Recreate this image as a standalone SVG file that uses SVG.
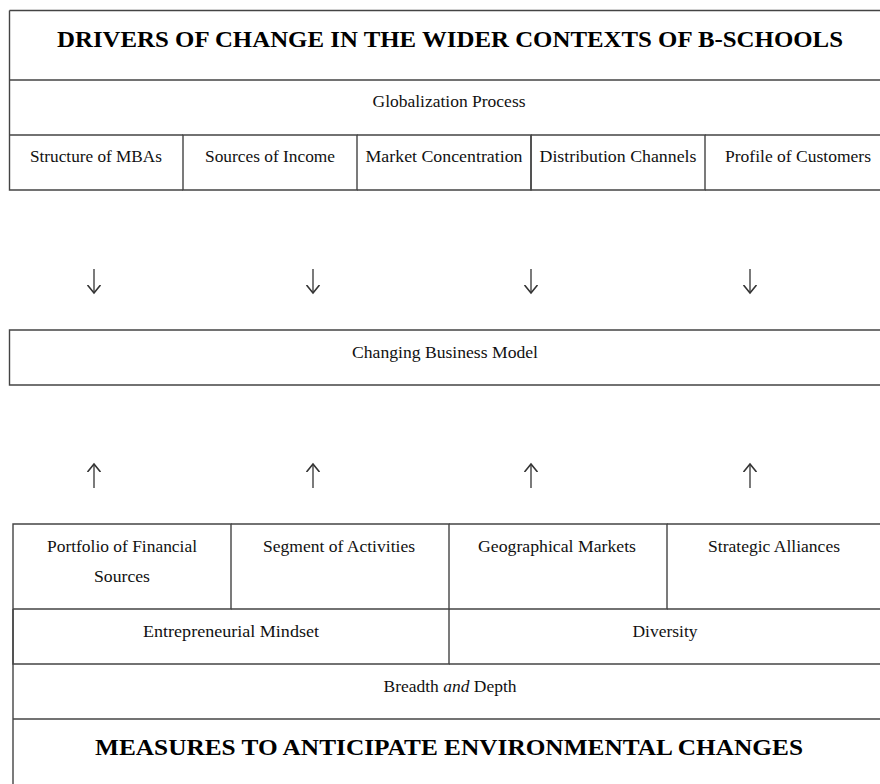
<svg xmlns="http://www.w3.org/2000/svg" width="880" height="784" viewBox="0 0 880 784">
<style>
.ln{stroke:#444;stroke-width:1.4;fill:none}
.t{font-family:"Liberation Serif","Times New Roman",serif;font-size:17px;fill:#111;text-anchor:middle}
.h{font-family:"Liberation Serif","Times New Roman",serif;font-size:23.5px;font-weight:bold;fill:#000;text-anchor:middle}
.ar{stroke:#333;stroke-width:1.3;fill:none}
</style>
<defs>
<marker id="head" viewBox="-8 -8 16 16" markerWidth="16" markerHeight="16" refX="0" refY="0" orient="auto" markerUnits="userSpaceOnUse">
<path d="M-8,-6.5 L0,0 L-8,6.5" stroke="#333" stroke-width="1.6" fill="none"/>
</marker>
</defs>
<rect width="880" height="784" fill="#fff"/>

<g id="top-table">
<g id="title-top">
<path class="ln" d="M9.5,10.5 H880 M9.5,10.5 V80"/>
<text class="h" x="450" y="47" textLength="786" lengthAdjust="spacingAndGlyphs">DRIVERS OF CHANGE IN THE WIDER CONTEXTS OF B-SCHOOLS</text>
</g>
<g id="globalization">
<path class="ln" d="M9.5,80 H880 M9.5,80 V135"/>
<text class="t" x="449" y="107" textLength="153" lengthAdjust="spacingAndGlyphs">Globalization Process</text>
</g>
<g id="structure-mbas">
<path class="ln" d="M9.5,135 H183 M9.5,135 V190 H183"/>
<text class="t" x="96" y="162" textLength="132" lengthAdjust="spacingAndGlyphs">Structure of MBAs</text>
</g>
<g id="sources-income">
<path class="ln" d="M183,135 H357 V190 H183 Z"/>
<text class="t" x="270" y="162" textLength="130" lengthAdjust="spacingAndGlyphs">Sources of Income</text>
</g>
<g id="market-concentration">
<path class="ln" d="M357,135 H531 V190 H357"/>
<text class="t" x="444" y="162" textLength="157" lengthAdjust="spacingAndGlyphs">Market Concentration</text>
</g>
<g id="distribution-channels">
<path class="ln" d="M531,135 H705 V190 H531 V135"/>
<text class="t" x="618" y="162" textLength="157" lengthAdjust="spacingAndGlyphs">Distribution Channels</text>
</g>
<g id="profile-customers">
<path class="ln" d="M705,135 H880 M705,190 H880"/>
<text class="t" x="798" y="162" textLength="146" lengthAdjust="spacingAndGlyphs">Profile of Customers</text>
</g>
</g>

<g id="changing-business-model">
<path class="ln" d="M880,330 H9.5 V385 H880"/>
<text class="t" x="445" y="358" textLength="186" lengthAdjust="spacingAndGlyphs">Changing Business Model</text>
</g>

<g id="connectors">
<path class="ar" d="M94,269 V293" marker-end="url(#head)"/>
<path class="ar" d="M313,269 V293" marker-end="url(#head)"/>
<path class="ar" d="M531,269 V293" marker-end="url(#head)"/>
<path class="ar" d="M750,269 V293" marker-end="url(#head)"/>
<path class="ar" d="M94,488 V464" marker-end="url(#head)"/>
<path class="ar" d="M313,488 V464" marker-end="url(#head)"/>
<path class="ar" d="M531,488 V464" marker-end="url(#head)"/>
<path class="ar" d="M750,488 V464" marker-end="url(#head)"/>
</g>

<g id="bottom-table">
<g id="portfolio">
<path class="ln" d="M13,784 V524 H231 V609 H13"/>
<text class="t" x="122" y="552" textLength="150" lengthAdjust="spacingAndGlyphs">Portfolio of Financial</text>
<text class="t" x="122" y="582" textLength="56" lengthAdjust="spacingAndGlyphs">Sources</text>
</g>
<g id="segment">
<path class="ln" d="M231,524 H449 V609 H231"/>
<text class="t" x="339" y="552" textLength="152" lengthAdjust="spacingAndGlyphs">Segment of Activities</text>
</g>
<g id="geographical">
<path class="ln" d="M449,524 H667 V609 H449"/>
<text class="t" x="557" y="552" textLength="158" lengthAdjust="spacingAndGlyphs">Geographical Markets</text>
</g>
<g id="strategic">
<path class="ln" d="M667,524 H880 M667,609 H880"/>
<text class="t" x="774" y="552" textLength="132" lengthAdjust="spacingAndGlyphs">Strategic Alliances</text>
</g>
<g id="entrepreneurial">
<path class="ln" d="M13,609 V664 H449 V609"/>
<text class="t" x="231" y="637" textLength="176" lengthAdjust="spacingAndGlyphs">Entrepreneurial Mindset</text>
</g>
<g id="diversity">
<path class="ln" d="M449,664 H880"/>
<text class="t" x="665" y="637" textLength="65" lengthAdjust="spacingAndGlyphs">Diversity</text>
</g>
<g id="breadth-depth">
<path class="ln" d="M13,719 H880"/>
<text class="t" x="450" y="692" textLength="133" lengthAdjust="spacingAndGlyphs">Breadth <tspan font-style="italic">and</tspan> Depth</text>
</g>
<g id="measures">
<text class="h" x="449" y="755" textLength="708" lengthAdjust="spacingAndGlyphs">MEASURES TO ANTICIPATE ENVIRONMENTAL CHANGES</text>
</g>
</g>
</svg>
